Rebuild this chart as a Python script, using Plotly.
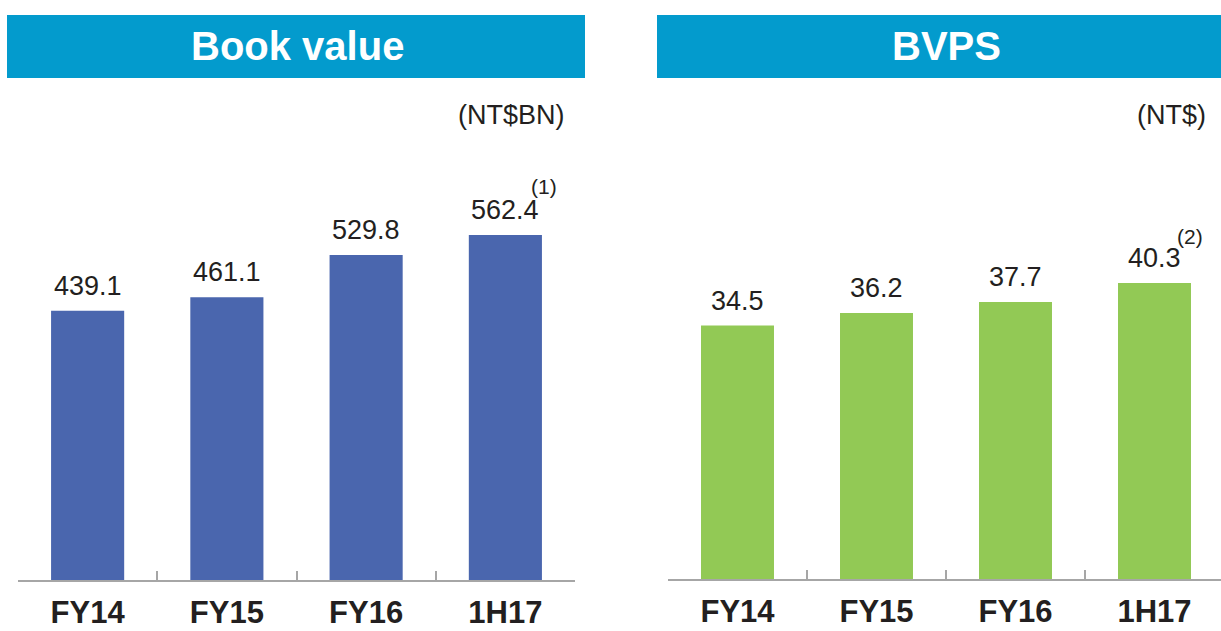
import plotly.graph_objects as go

categories = ["FY14", "FY15", "FY16", "1H17"]
book_value = [439.1, 461.1, 529.8, 562.4]
bvps = [34.5, 36.2, 37.7, 40.3]
book_labels = ["439.1", "461.1", "529.8", "562.4"]
bvps_labels = ["34.5", "36.2", "37.7", "40.3"]
titles = ["Book value", "BVPS"]
units = ["(NT$BN)", "(NT$)"]
notes = ["(1)", "(2)"]

W, H = 1221, 631
FONT = "Liberation Sans, Arial, sans-serif"
TXT = "#231F20"
BLUE = "#4A66AE"
GREEN = "#92C955"
HEAD = "#039BCD"
AXC = "#A6A6A6"

def px(x):
    return x / W

def py(y):
    return (H - y) / H

fig = go.Figure()
fig.add_trace(go.Bar(x=categories, y=book_value, marker=dict(color=BLUE, line=dict(width=0)),
                     xaxis="x", yaxis="y", hoverinfo="skip"))
fig.add_trace(go.Bar(x=categories, y=bvps, marker=dict(color=GREEN, line=dict(width=0)),
                     xaxis="x2", yaxis="y2", hoverinfo="skip"))

LBL = 27
annotations = []
for c, v, t in zip(categories, book_value, book_labels):
    annotations.append(dict(x=c, y=v, xref="x", yref="y", text=t, showarrow=False,
                            yanchor="bottom", yshift=8, font=dict(family=FONT, size=LBL, color=TXT)))
for c, v, t in zip(categories, bvps, bvps_labels):
    annotations.append(dict(x=c, y=v, xref="x2", yref="y2", text=t, showarrow=False,
                            yanchor="bottom", yshift=8, font=dict(family=FONT, size=LBL, color=TXT)))
annotations.append(dict(x=categories[-1], y=book_value[-1], xref="x", yref="y", text=notes[0],
                        showarrow=False, xshift=39, yshift=49, yanchor="middle",
                        font=dict(family=FONT, size=21, color=TXT)))
annotations.append(dict(x=categories[-1], y=bvps[-1], xref="x2", yref="y2", text=notes[1],
                        showarrow=False, xshift=35, yshift=47, yanchor="middle",
                        font=dict(family=FONT, size=21, color=TXT)))
# units
annotations.append(dict(x=px(567), y=py(115), xref="paper", yref="paper", text=units[0],
                        showarrow=False, xanchor="right", yanchor="middle",
                        font=dict(family=FONT, size=27, color=TXT)))
annotations.append(dict(x=px(1208), y=py(115), xref="paper", yref="paper", text=units[1],
                        showarrow=False, xanchor="right", yanchor="middle",
                        font=dict(family=FONT, size=27, color=TXT)))
# headers
annotations.append(dict(x=px(297), y=py(46), xref="paper", yref="paper", text="<b>%s</b>" % titles[0],
                        showarrow=False, xanchor="center", yanchor="middle",
                        font=dict(family=FONT, size=40, color="white")))
annotations.append(dict(x=px(946), y=py(46), xref="paper", yref="paper", text="<b>%s</b>" % titles[1],
                        showarrow=False, xanchor="center", yanchor="middle",
                        font=dict(family=FONT, size=40, color="white")))

shapes = [
    dict(type="rect", xref="paper", yref="paper", x0=px(7), x1=px(585), y0=py(78), y1=py(15),
         fillcolor=HEAD, line=dict(width=0), layer="below"),
    dict(type="rect", xref="paper", yref="paper", x0=px(657), x1=px(1240), y0=py(78), y1=py(15),
         fillcolor=HEAD, line=dict(width=0), layer="below"),
]

xaxis_common = dict(type="category", showline=True, linecolor=AXC, linewidth=2,
                    ticks="inside", tickson="boundaries", ticklen=9, tickcolor=AXC, tickwidth=2,
                    showgrid=False, zeroline=False, fixedrange=True, automargin=False,
                    tickfont=dict(family=FONT, size=31, color=TXT), ticklabelstandoff=4)

fig.update_layout(
    width=W, height=H, margin=dict(l=0, r=0, t=0, b=0, autoexpand=False),
    paper_bgcolor="white", plot_bgcolor="white", showlegend=False,
    bargap=0.475,
    xaxis=dict(domain=[px(18), px(575)], range=[-0.5, 3.5], anchor="y", **xaxis_common),
    xaxis2=dict(domain=[px(668), 1.0], range=[-0.5, -0.5 + 553 / 139], anchor="y2", **xaxis_common),
    yaxis=dict(domain=[py(580), py(100)], range=[0, 480 / 0.6134], visible=False, fixedrange=True),
    yaxis2=dict(domain=[py(579), py(100)], range=[0, 479 / 7.345], visible=False, fixedrange=True),
    annotations=annotations, shapes=shapes,
)
fig.update_xaxes(tickprefix="<b>", ticksuffix="</b>")

fig.write_html("out.html", config={"displayModeBar": False},
               post_script="document.body.style.margin='0';document.body.style.overflow='hidden';")
